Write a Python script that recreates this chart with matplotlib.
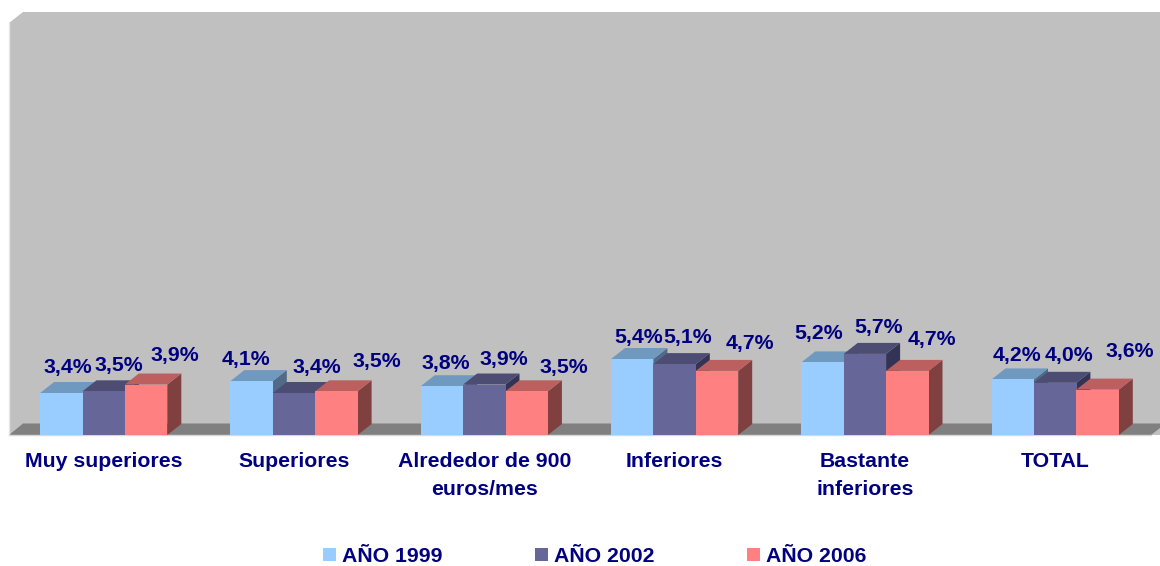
import matplotlib
matplotlib.use("Agg")
import matplotlib.pyplot as plt
from matplotlib.patches import Polygon, Rectangle

categories = ["Muy superiores", "Superiores", "Alrededor de 900\neuros/mes", "Inferiores", "Bastante\ninferiores", "TOTAL"]
series_names = ["AÑO 1999", "AÑO 2002", "AÑO 2006"]
ano_1999 = [3.4, 4.1, 3.8, 5.4, 5.2, 4.2]
ano_2002 = [3.5, 3.4, 3.9, 5.1, 5.7, 4.0]
ano_2006 = [3.9, 3.5, 3.5, 4.7, 4.7, 3.6]
series = [ano_1999, ano_2002, ano_2006]

# face, top, side
colors = [("#99CCFF", "#7099C0", "#506A88"),
          ("#666699", "#4D4D73", "#333355"),
          ("#FF8080", "#BC5F5F", "#804040")]
navy = "#000080"

# label centres in pixels, the original chart moved them by hand
label_x = [[68, 119, 175], [246, 317, 377], [446, 504, 564], [639, 688, 750], [819, 879, 932], [1017, 1069, 1130]]
label_y = [[368, 365, 355], [359, 368, 362], [363, 359, 367], [337, 337, 343], [334, 328, 340], [356, 355, 352]]

W, H = 1160, 566
group_px = 190.3
first_px = 103.7
unit_px = 17.0
base_val = 0.93
base_px = 435
font_size = 15.3

fig = plt.figure(figsize=(W / 100, H / 100), dpi=100)
ax = fig.add_axes([0, 0, 1, 1])
ax.set_xlim(-first_px / group_px, (W - first_px) / group_px)
ax.set_ylim(base_val - (H - base_px) / unit_px, base_val + base_px / unit_px)
ax.axis("off")

plt.rcParams["font.family"] = ["Liberation Sans", "DejaVu Sans"]


def xd(px):
    return (px - first_px) / group_px


def yd(py):
    return base_val + (base_px - py) / unit_px


def poly(points, color, z=1):
    ax.add_patch(Polygon([(xd(a), yd(b)) for a, b in points], closed=True,
                         facecolor=color, linewidth=0, zorder=z))


# walls and floor
poly([(9, 435), (9, 23), (23, 12), (1160, 12), (1160, 435)], "#C0C0C0")
poly([(9, 435), (23, 423.5), (1160, 423.5), (1160, 428), (1151, 435)], "#808080", 2)
ax.plot([xd(9), xd(9)], [yd(435), yd(23)], color="#E6E6E6", lw=1, zorder=2)
ax.plot([xd(9), xd(1151)], [yd(435), yd(435)], color="#D8D8D8", lw=1, zorder=2)

bar_w = 42.4 / group_px
dx = 14 / group_px
dy = 11 / unit_px

for i in range(len(categories)):
    for j, vals in enumerate(series):
        face, top, side = colors[j]
        x0 = i + (j - 1.5) * bar_w
        v = vals[i]
        z = 3 + i + j * 0.1
        ax.add_patch(Polygon([(x0 + bar_w, base_val), (x0 + bar_w + dx, base_val + dy),
                              (x0 + bar_w + dx, v + dy), (x0 + bar_w, v)], facecolor=side, linewidth=0, zorder=z))
        ax.add_patch(Polygon([(x0, v), (x0 + dx, v + dy), (x0 + bar_w + dx, v + dy), (x0 + bar_w, v)],
                             facecolor=top, linewidth=0, zorder=z))
        ax.add_patch(Rectangle((x0, base_val), bar_w, v - base_val, facecolor=face, linewidth=0, zorder=z + 0.01))
        ax.text(xd(label_x[i][j]), yd(label_y[i][j]), f"{v:.1f}%".replace(".", ","), color=navy,
                fontsize=font_size, fontweight="bold", ha="center", va="center", zorder=20)

    ax.text(i, yd(452), categories[i], color=navy, fontsize=font_size, fontweight="bold",
            ha="center", va="top", linespacing=1.62, zorder=20)

# legend
legend_x = [323, 535, 747]
for name, c, lx in zip(series_names, colors, legend_x):
    ax.add_patch(Rectangle((xd(lx), yd(561)), 13 / group_px, 13 / unit_px, facecolor=c[0], linewidth=0))
    ax.text(xd(lx + 19), yd(556), name, color=navy, fontsize=font_size, fontweight="bold", ha="left", va="center")

fig.savefig("out.png", dpi=100)
